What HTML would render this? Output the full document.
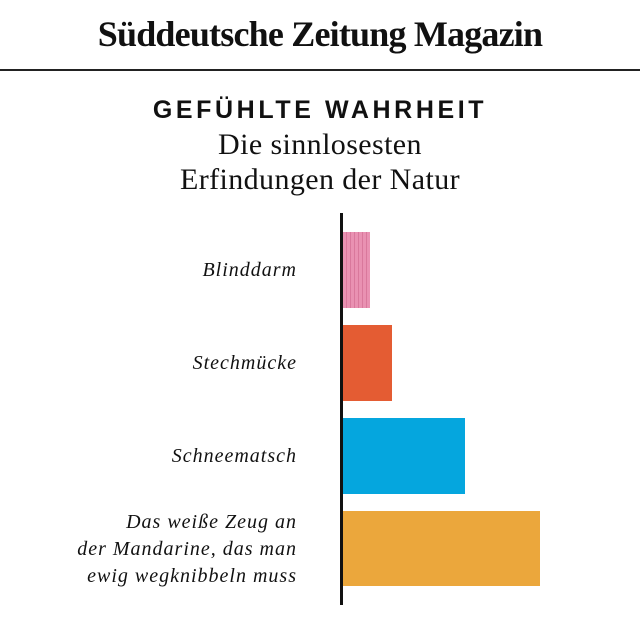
<!DOCTYPE html>
<html><head><meta charset="utf-8"><style>
body{margin:0;width:640px;height:640px;background:#fff;position:relative;overflow:hidden;font-family:"Liberation Serif",serif;color:#111}
.a{position:absolute}
.logo{left:0;width:640px;top:13px;text-align:center;font-size:36px;font-weight:bold;letter-spacing:-0.8px}
.rule{left:0;top:69px;width:640px;height:2px;background:#222}
.h{left:0;width:640px;top:96px;text-align:center;font-family:"Liberation Sans",sans-serif;font-weight:bold;font-size:25px;letter-spacing:3.6px}
.sub{left:0;width:640px;top:127px;text-align:center;font-size:30px;line-height:35px;letter-spacing:0.4px}
.ax{left:340px;top:213px;width:3px;height:392px;background:#111}
.bar{left:343px}
.lab{right:343px;text-align:right;font-style:italic;font-size:20px;line-height:27px;letter-spacing:1px}
</style></head><body>
<div class="a logo">Süddeutsche Zeitung Magazin</div>
<div class="a rule"></div>
<div class="a h">GEFÜHLTE WAHRHEIT</div>
<div class="a sub">Die sinnlosesten<br>Erfindungen der Natur</div>
<div class="a ax"></div>
<div class="a bar" style="top:232px;height:76px;width:27px;background:repeating-linear-gradient(90deg,#e991b2 0 3px,#d9789c 3px 4px)"></div>
<div class="a bar" style="top:325px;height:76px;width:49px;background:#e45c33"></div>
<div class="a bar" style="top:418px;height:76px;width:122px;background:#05a6de"></div>
<div class="a bar" style="top:511px;height:75px;width:197px;background:#eba73c"></div>
<div class="a lab" style="top:257px">Blinddarm</div>
<div class="a lab" style="top:350px">Stechmücke</div>
<div class="a lab" style="top:443px">Schneematsch</div>
<div class="a lab" style="top:509px">Das weiße Zeug an<br>der Mandarine, das man<br>ewig wegknibbeln muss</div>
</body></html>
